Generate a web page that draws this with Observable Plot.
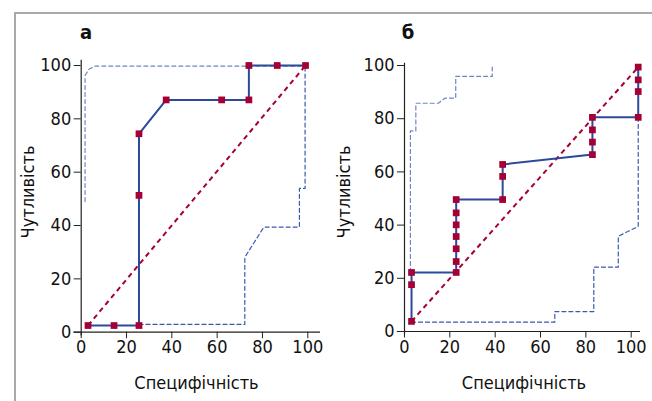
<!DOCTYPE html>
<html><head><meta charset="utf-8">
<script src="https://cdn.jsdelivr.net/npm/d3@7"></script>
<script src="https://cdn.jsdelivr.net/npm/@observablehq/plot@0.6"></script>
<style>
body{margin:0;background:#fff;}
#wrap{position:relative;width:652px;height:401px;overflow:hidden;background:#fff;}
#frame{position:absolute;left:14px;top:12px;width:660px;height:420px;border-top:2px solid #a9a9a9;border-left:2px solid #a9a9a9;}
.panel{position:absolute;top:0;}
</style></head><body><div id="wrap"><div id="frame"></div></div>
<script>
// Tick labels
const ticks = [0, 20, 40, 60, 80, 100];
const xLabel = "Специфічність";
const yLabel = "Чутливість";

// Panel а — ROC points
const aSpec = [3, 14.5, 25.5, 25.5, 25.5, 37.5, 62, 74, 74, 86.5, 99];
const aSens = [2.5, 2.5, 2.5, 51.3, 74.4, 87.1, 87.1, 87.1, 100, 100, 100];
// Panel а — confidence bands
const aUpSpec = [1.7, 1.7, 3.4, 6.3, 99];
const aUpSens = [49, 96.2, 98.6, 99.8, 99.8];
const aLoSpec = [25.5, 72.2, 72.2, 80.6, 96.3, 96.3, 98.8, 98.8];
const aLoSens = [2.9, 2.9, 28.1, 39.4, 39.4, 53.9, 53.9, 99.8];
// Panel а — chance line ends
const aDiagSpec = [3, 99];
const aDiagSens = [2.5, 100];

// Panel б — ROC points
const bSpec = [3.1, 3.1, 3.1, 22.8, 22.8, 22.8, 22.8, 22.8, 22.8, 22.8, 43.3, 43.3, 43.3, 82.9, 82.9, 82.9, 82.9, 103.1, 103.1, 103.1, 103.1];
const bSens = [3.8, 17.6, 22.2, 22.2, 26.3, 31.1, 35.7, 40.1, 44.6, 49.6, 49.6, 58.3, 62.8, 66.5, 71.2, 75.8, 80.5, 80.5, 90.2, 94.6, 99.4];
// Panel б — confidence bands
const bUpSpec = [2.6, 2.6, 5, 5, 14.9, 17.8, 22.6, 22.6, 38.7, 38.7];
const bUpSens = [22.2, 75.4, 75.4, 85.8, 85.8, 87.7, 87.7, 95.9, 95.9, 99.4];
const bLoSpec = [3.1, 66.3, 66.3, 83.5, 83.5, 94.3, 94.3, 103.1, 103.1];
const bLoSens = [3.5, 3.5, 7.5, 7.5, 24.2, 24.2, 35.8, 39.5, 80.5];
// Panel б — chance line ends
const bDiagSpec = [3.1, 103.1];
const bDiagSens = [3.8, 99.4];

const FONT = '"DejaVu Sans Condensed","DejaVu Sans",sans-serif';
const BLUE = "#2c4a9a";
const BAND = "#3a5aae";
const RED = "#a50036";

function zip(xs, ys) { return xs.map((x, i) => ({x, y: ys[i]})); }

function panel(o) {
  const pts = zip(o.spec, o.sens);
  const up = zip(o.upSpec, o.upSens);
  const lo = zip(o.loSpec, o.loSens);
  const diag = [{x1: o.diagSpec[0], y1: o.diagSens[0], x2: o.diagSpec[1], y2: o.diagSens[1]}];
  const svg = Plot.plot({
    width: 326, height: 401,
    marginLeft: o.mL, marginRight: o.mR, marginTop: 65, marginBottom: o.mB,
    style: {fontFamily: FONT, fontSize: "18px", overflow: "visible", background: "transparent"},
    x: {domain: [0, 100]},
    y: {domain: [0, 100]},
    marks: [
      Plot.line(up, {x: "x", y: "y", stroke: "#6f86c6", strokeWidth: 1.2, strokeDasharray: "4,3"}),
      Plot.line(lo, {x: "x", y: "y", stroke: BAND, strokeWidth: 1.2, strokeDasharray: "4,3"}),
      Plot.link(diag, {x1: "x1", y1: "y1", x2: "x2", y2: "y2", stroke: RED, strokeWidth: 2, strokeDasharray: "5,4"}),
      Plot.line(pts, {x: "x", y: "y", stroke: BLUE, strokeWidth: 2}),
      Plot.dot(pts, {x: "x", y: "y", symbol: "square", r: 3.8, fill: RED, stroke: "none"}),
      Plot.ruleY([0], {x1: -3.2, x2: o.xEnd, stroke: "#222", strokeWidth: 1.2}),
      Plot.ruleX([0], {y1: -1.4, y2: o.yEnd, stroke: "#222", strokeWidth: 1.2}),
      Plot.axisX(ticks, {tickSize: 6.5, tickPadding: 2, stroke: "#222", fill: "#111", fontSize: 18, label: null}),
      Plot.axisY(ticks, {tickSize: 7, tickPadding: 3, stroke: "#222", fill: "#111", fontSize: 18, label: null})
    ]
  });
  const s = d3.select(svg);
  s.append("text").attr("x", o.titleX).attr("y", 39).attr("font-weight", "bold").attr("font-size", 20)
    .attr("fill", "#111").text(o.title);
  s.append("text").attr("x", o.xlX).attr("y", 389).attr("text-anchor", "middle").attr("font-size", 18)
    .attr("fill", "#111").text(xLabel);
  s.append("text").attr("transform", `translate(${o.ylX},192) rotate(-90)`).attr("text-anchor", "middle")
    .attr("font-size", 18).attr("fill", "#111").text(yLabel);
  svg.classList.add("panel");
  svg.style.left = o.left + "px";
  document.getElementById("wrap").appendChild(svg);
}

panel({title: "а", titleX: 86, left: 0, mL: 80.7, mR: 18.7, mB: 69.3, xEnd: 105.6, yEnd: 102,
  spec: aSpec, sens: aSens, upSpec: aUpSpec, upSens: aUpSens, loSpec: aLoSpec, loSens: aLoSens,
  diagSpec: aDiagSpec, diagSens: aDiagSens, xlX: 196.5, ylX: 34});
panel({title: "б", titleX: 82, left: 326, mL: 78, mR: 21.3, mB: 70, xEnd: 104.1, yEnd: 100.8,
  spec: bSpec, sens: bSens, upSpec: bUpSpec, upSens: bUpSens, loSpec: bLoSpec, loSens: bLoSens,
  diagSpec: bDiagSpec, diagSens: bDiagSens, xlX: 198, ylX: 24});
</script></body></html>
